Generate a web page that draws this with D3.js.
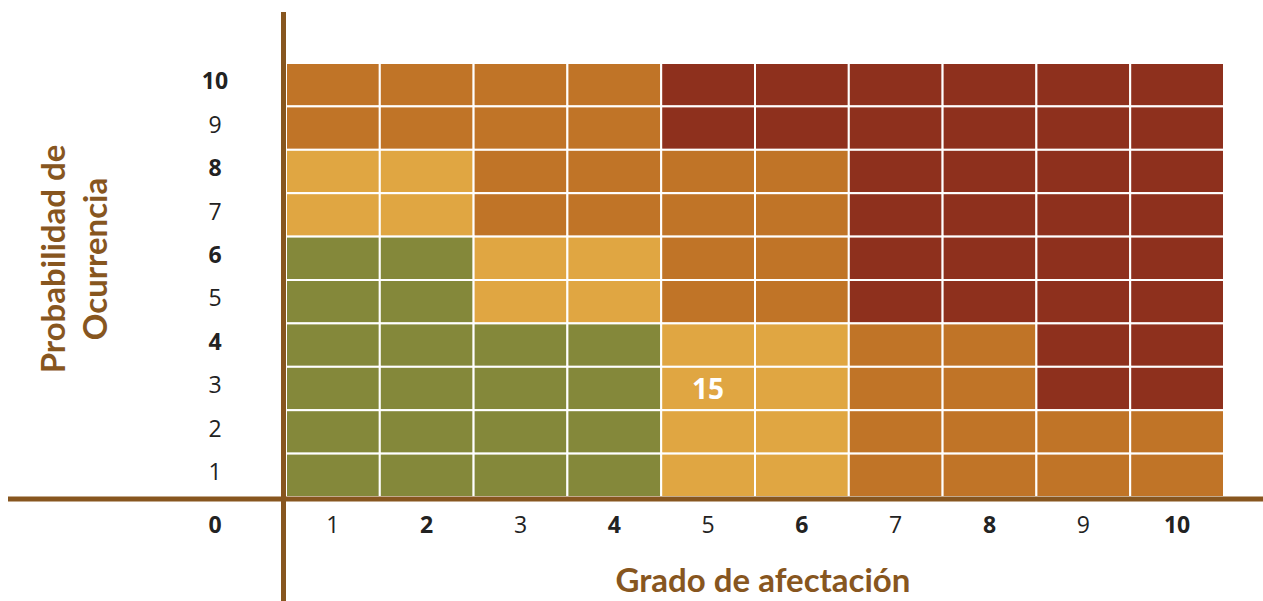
<!DOCTYPE html>
<html>
<head>
<meta charset="utf-8">
<script src="https://cdn.jsdelivr.net/npm/d3@7"></script>
<style>
  body { margin: 0; background: #fff; }
  text { font-family: "Open Sans", sans-serif; }
</style>
</head>
<body>
<script>
// Grado de afectacion (x) and probabilidad de ocurrencia (y)
var grados = [1, 2, 3, 4, 5, 6, 7, 8, 9, 10];
var probabilidades = [10, 9, 8, 7, 6, 5, 4, 3, 2, 1];

// tick labels written in bold
var gradosNegrita = [2, 4, 6, 8, 10];
var probNegrita = [10, 8, 6, 4];

// risk level per cell, rows from probability 10 down to 1
// 0 = bajo, 1 = moderado, 2 = alto, 3 = extremo
var fila10 = [2, 2, 2, 2, 3, 3, 3, 3, 3, 3];
var fila9  = [2, 2, 2, 2, 3, 3, 3, 3, 3, 3];
var fila8  = [1, 1, 2, 2, 2, 2, 3, 3, 3, 3];
var fila7  = [1, 1, 2, 2, 2, 2, 3, 3, 3, 3];
var fila6  = [0, 0, 1, 1, 2, 2, 3, 3, 3, 3];
var fila5  = [0, 0, 1, 1, 2, 2, 3, 3, 3, 3];
var fila4  = [0, 0, 0, 0, 1, 1, 2, 2, 3, 3];
var fila3  = [0, 0, 0, 0, 1, 1, 2, 2, 3, 3];
var fila2  = [0, 0, 0, 0, 1, 1, 2, 2, 2, 2];
var fila1  = [0, 0, 0, 0, 1, 1, 2, 2, 2, 2];

var nivelColores = ["#84883a", "#e0a642", "#c07427", "#8e301d"];

// marked cell
var marcaGrado = 5, marcaProb = 3, marcaTexto = "15";

var W = 1263, H = 601;
var grid = {left: 286, right: 1224, top: 63, bottom: 497};
var brown = "#87561f";

var filas = [fila10, fila9, fila8, fila7, fila6, fila5, fila4, fila3, fila2, fila1];
var celdas = [];
filas.forEach(function(f, i) {
  f.forEach(function(nivel, j) {
    celdas.push({prob: probabilidades[i], grado: grados[j], nivel: nivel});
  });
});

var x = d3.scaleBand().domain(grados).range([grid.left, grid.right]).padding(0);
var y = d3.scaleBand().domain(probabilidades).range([grid.top, grid.bottom]).padding(0);

var svg = d3.select("body").append("svg")
    .attr("width", W)
    .attr("height", H);

// cells
svg.append("g").selectAll("rect")
    .data(celdas)
  .enter().append("rect")
    .attr("x", function(d) { return x(d.grado); })
    .attr("y", function(d) { return y(d.prob); })
    .attr("width", x.bandwidth())
    .attr("height", y.bandwidth())
    .attr("fill", function(d) { return nivelColores[d.nivel]; })
    .attr("stroke", "#fff")
    .attr("stroke-width", 2);

// value in the marked cell
svg.append("text")
    .attr("x", x(marcaGrado) + x.bandwidth() / 2)
    .attr("y", y(marcaProb) + y.bandwidth() / 2)
    .attr("dy", "0.36em")
    .attr("text-anchor", "middle")
    .style("font-size", "28px")
    .style("font-weight", "bold")
    .style("fill", "#fff")
    .text(marcaTexto);

// axis lines
svg.append("line")
    .attr("x1", 8).attr("x2", W)
    .attr("y1", 499).attr("y2", 499)
    .attr("stroke", brown).attr("stroke-width", 5);
svg.append("line")
    .attr("x1", 283.5).attr("x2", 283.5)
    .attr("y1", 12).attr("y2", H)
    .attr("stroke", brown).attr("stroke-width", 5);

// x tick labels
var xAxis = svg.append("g")
    .attr("transform", "translate(0," + 499 + ")")
    .call(d3.axisBottom(x).tickSize(0).tickPadding(0));
xAxis.select(".domain").remove();
xAxis.selectAll("text")
    .attr("y", 34)
    .attr("dy", 0)
    .style("font-family", "'Open Sans', sans-serif")
    .style("font-size", "23px")
    .style("font-weight", function(d) { return gradosNegrita.indexOf(d) >= 0 ? "bold" : "normal"; })
    .style("fill", "#222");

// y tick labels
var yAxis = svg.append("g")
    .attr("transform", "translate(215,0)")
    .call(d3.axisLeft(y).tickSize(0).tickPadding(0));
yAxis.select(".domain").remove();
yAxis.selectAll("text")
    .attr("x", 0)
    .attr("dy", "0.2em")
    .attr("text-anchor", "middle")
    .style("font-family", "'Open Sans', sans-serif")
    .style("font-size", "23px")
    .style("font-weight", function(d) { return probNegrita.indexOf(d) >= 0 ? "bold" : "normal"; })
    .style("fill", "#222");

// origin
svg.append("text")
    .attr("x", 215)
    .attr("y", 499 + 34)
    .attr("text-anchor", "middle")
    .style("font-size", "23px")
    .style("font-weight", "bold")
    .style("fill", "#222")
    .text("0");

// axis titles
svg.append("text")
    .attr("x", 763)
    .attr("y", 592)
    .attr("text-anchor", "middle")
    .style("font-family", "Lato, sans-serif")
    .style("font-size", "33px")
    .style("font-weight", "bold")
    .style("fill", brown)
    .text("Grado de afectación");

var yTitle = svg.append("text")
    .attr("transform", "translate(0,259) rotate(-90)")
    .attr("text-anchor", "middle")
    .style("font-family", "Lato, sans-serif")
    .style("font-size", "33px")
    .style("font-weight", "bold")
    .style("fill", brown);
yTitle.append("tspan").attr("x", 0).attr("y", 65).text("Probabilidad de");
yTitle.append("tspan").attr("x", 0).attr("y", 107).text("Ocurrencia");
</script>
</body>
</html>
